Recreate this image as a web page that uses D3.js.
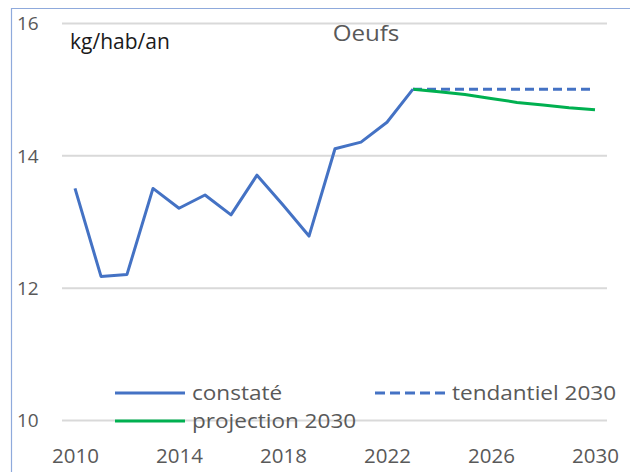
<!DOCTYPE html>
<html><head><meta charset="utf-8">
<script src="https://cdn.jsdelivr.net/npm/d3@7/dist/d3.min.js"></script>
<style>body{margin:0;background:#fff}svg{display:block}text{font-family:"Open Sans","Noto Sans",sans-serif}</style>
</head><body><svg id="c" width="630" height="472"></svg>
<script>
const constateYears = [2010,2011,2012,2013,2014,2015,2016,2017,2018,2019,2020,2021,2022,2023];
const constateValues = [13.5,12.17,12.2,13.5,13.2,13.4,13.1,13.7,13.25,12.78,14.1,14.2,14.5,15.0];
const futureYears = [2023,2024,2025,2026,2027,2028,2029,2030];
const tendancielValues = [15.0,15.0,15.0,15.0,15.0,15.0,15.0,15.0];
const projectionValues = [15.0,14.96,14.92,14.86,14.8,14.76,14.72,14.69];
const yTicks = [10,12,14,16];
const xTicks = [2010,2014,2018,2022,2026,2030];
const seriesNames = ["constaté","tendantiel 2030","projection 2030"];

const svg = d3.select("#c");
const blue = "#4472C4", green = "#00B050", grey = "#595959";
const x = d3.scaleLinear().domain([2010,2030]).range([75,595]);
const y = d3.scaleLinear().domain([10,16]).range([420,23]);

// frame
svg.append("path").attr("d","M11.5,472 V8.5 H630").attr("fill","none").attr("stroke","#8FAADC").attr("stroke-width",1.2);

// grid
const gx0 = 62, gx1 = 607;
const yAxis = d3.axisLeft(y).tickValues(yTicks).tickSize(-(gx1-gx0)).tickFormat(d3.format("d"));
const gy = svg.append("g").attr("transform",`translate(${gx0},0)`).call(yAxis);
gy.select(".domain").remove();
gy.selectAll(".tick line").attr("stroke","#D9D9D9").attr("stroke-width",2);
gy.selectAll(".tick text").attr("x",17-gx0).attr("text-anchor","start").attr("fill",grey).attr("font-size",19).attr("dy","0.36em");

const xAxis = d3.axisBottom(x).tickValues(xTicks).tickSize(0).tickFormat(d3.format("d"));
const gxa = svg.append("g").attr("transform","translate(0,463)").call(xAxis);
gxa.select(".domain").remove();
gxa.selectAll(".tick text").attr("fill",grey).attr("font-size",20.5).attr("y",0).attr("dy",0);

const line = d3.line().x(d=>x(d[0])).y(d=>y(d[1]));
svg.append("path").datum(futureYears.map((d,i)=>[d,tendancielValues[i]])).attr("d",line)
  .attr("fill","none").attr("stroke",blue).attr("stroke-width",3).attr("stroke-dasharray","9,5");
svg.append("path").datum(futureYears.map((d,i)=>[d,projectionValues[i]])).attr("d",line)
  .attr("fill","none").attr("stroke",green).attr("stroke-width",3);
svg.append("path").datum(constateYears.map((d,i)=>[d,constateValues[i]])).attr("d",line)
  .attr("fill","none").attr("stroke",blue).attr("stroke-width",3).attr("stroke-linejoin","round");

// titles
svg.append("text").attr("x",70).attr("y",49).attr("font-size",21).attr("fill","#1a1a1a").text("kg/hab/an");
svg.append("text").attr("transform","translate(366,41) scale(1.15,1)").attr("text-anchor","middle")
  .attr("font-size",21).attr("fill",grey).text("Oeufs");

// legend
const leg = [
  {name:seriesNames[0], x:115, y:393, color:blue, dash:null},
  {name:seriesNames[1], x:375, y:393, color:blue, dash:"10,5"},
  {name:seriesNames[2], x:115, y:421, color:green, dash:null}
];
leg.forEach(l=>{
  svg.append("line").attr("x1",l.x).attr("x2",l.x+70).attr("y1",l.y).attr("y2",l.y)
    .attr("stroke",l.color).attr("stroke-width",3).attr("stroke-dasharray",l.dash);
  svg.append("text").attr("transform",`translate(${l.x+77},${l.y}) scale(1.1,1)`).attr("dy","0.35em")
    .attr("font-size",20.5).attr("fill",grey).text(l.name);
});
</script></body></html>
